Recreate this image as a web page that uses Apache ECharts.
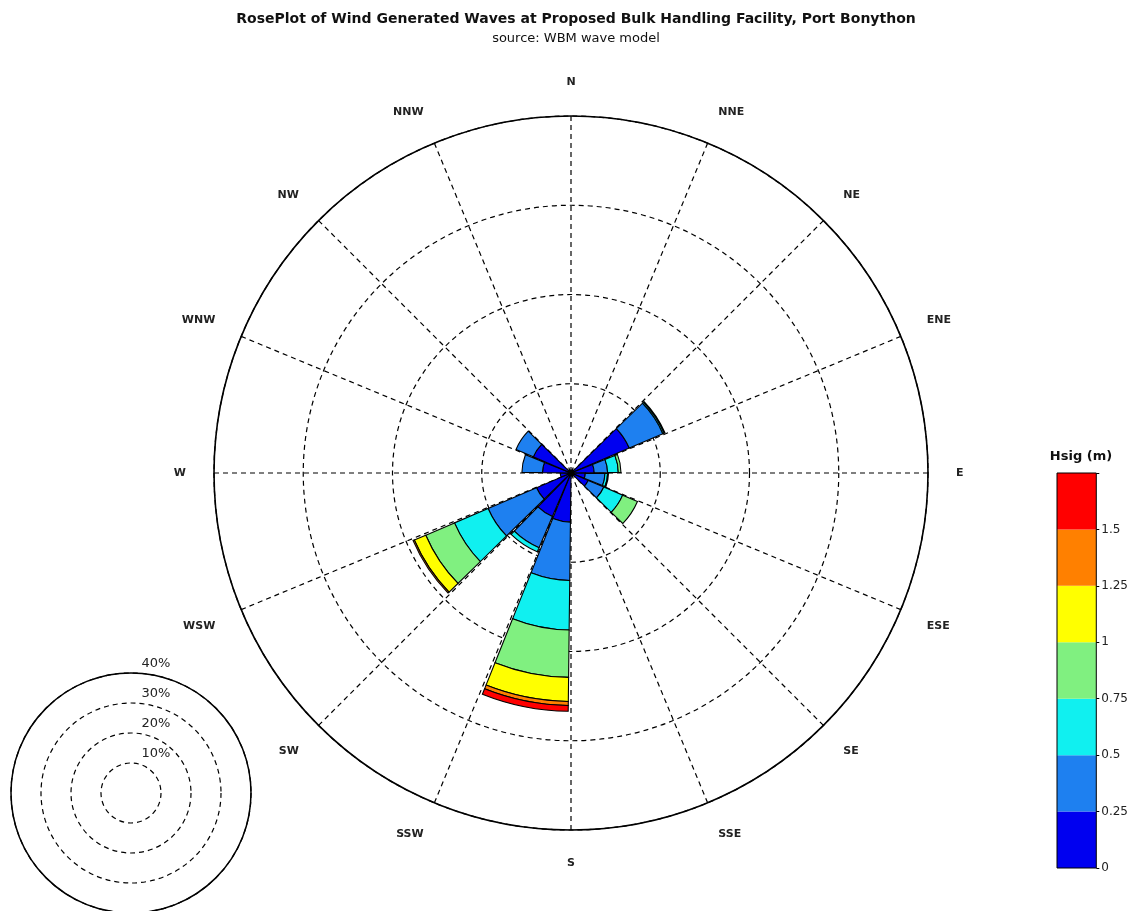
<!DOCTYPE html>
<html>
<head>
<meta charset="utf-8">
<title>RosePlot of Wind Generated Waves</title>
<script src="https://cdn.jsdelivr.net/npm/echarts@6/dist/echarts.min.js"></script>
<style>
  html, body { margin: 0; padding: 0; background: #ffffff; }
  #chart { width: 1131px; height: 911px; }
</style>
</head>
<body>
<div id="chart"></div>
<script>
// Direction sectors, clockwise from north (each sector spans 22.5 degrees from its start bearing)
const directions = ['N', 'NNE', 'NE', 'ENE', 'E', 'ESE', 'SE', 'SSE',
                    'S', 'SSW', 'SW', 'WSW', 'W', 'WNW', 'NW', 'NNW'];

// Hsig classes (m) and their colours
const hsigBins = ['0-0.25', '0.25-0.5', '0.5-0.75', '0.75-1', '1-1.25', '1.25-1.5', '>1.5'];
const binColors = ['#0000f0', '#1e80f0', '#10f0f0', '#80f080', '#ffff00', '#ff8000', '#ff0000'];

// Occurrence (%) per direction sector for each Hsig class
const freqH0 = [0, 0, 7.1, 2.6, 1.6, 2.1, 0, 0, 5.5, 5.3, 4.2, 1.2, 3.2, 4.6, 0, 0];
const freqH1 = [0, 0, 4.1, 1.5, 2.2, 1.9, 0, 0, 6.55, 3.8, 5.9, 0, 2.3, 2.1, 0, 0];
const freqH2 = [0, 0, 0.15, 1.2, 0.3, 2.3, 0, 0, 5.55, 0.5, 4.1, 0, 0, 0, 0, 0];
const freqH3 = [0, 0, 0.1, 0.3, 0.1, 1.8, 0, 0, 5.3, 0, 3.5, 0, 0, 0, 0, 0];
const freqH4 = [0, 0, 0, 0, 0, 0, 0, 0, 2.7, 0, 1.4, 0, 0, 0, 0, 0];
const freqH5 = [0, 0, 0, 0, 0, 0, 0, 0, 0.45, 0, 0.15, 0, 0, 0, 0, 0];
const freqH6 = [0, 0, 0, 0, 0, 0, 0, 0, 0.65, 0, 0, 0, 0, 0, 0, 0];
const freqByBin = [freqH0, freqH1, freqH2, freqH3, freqH4, freqH5, freqH6];

// Rings (%) and colour-bar tick labels
const ringTicks = [10, 20, 30, 40];
const colorbarTicks = ['0', '0.25', '0.5', '0.75', '1', '1.25', '1.5'];
const colorbarStep = 0.25;

const FONT = '"Liberation Sans", Arial, Helvetica, sans-serif';
const WIDE = '"DejaVu Sans", Verdana, sans-serif';
const RING_MAX = ringTicks[ringTicks.length - 1];
const RING_STEP = ringTicks[0];
const SECTOR = 360 / directions.length;

const roseCenter = [571, 473];
const roseRadius = 357;
const keyCenter = [131, 793];
const keyRadius = 120;

const dashed = { color: '#000', width: 1.2, type: [5, 4] };

const series = [];

// Stacked rose sectors
freqByBin.forEach(function (values, k) {
  series.push({
    type: 'bar',
    name: hsigBins[k],
    coordinateSystem: 'polar',
    polarIndex: 0,
    stack: 'rose',
    barCategoryGap: '6%',
    silent: true,
    data: values.map(function (v) { return v > 0 ? v : '-'; }),
    itemStyle: { color: binColors[k], borderColor: '#000', borderWidth: 1.1 }
  });
});

// Colour bar segments
binColors.forEach(function (c, k) {
  series.push({
    type: 'bar',
    name: 'cb-' + hsigBins[k],
    xAxisIndex: 0,
    yAxisIndex: 0,
    stack: 'colorbar',
    barWidth: '100%',
    silent: true,
    data: [colorbarStep],
    itemStyle: { color: c }
  });
});

const option = {
  animation: false,
  backgroundColor: '#ffffff',
  textStyle: { fontFamily: FONT },
  title: [
    {
      text: 'RosePlot of Wind Generated Waves at Proposed Bulk Handling Facility, Port Bonython',
      subtext: 'source: WBM wave model',
      left: 571,
      textAlign: 'center',
      top: 7,
      itemGap: 6,
      textStyle: { fontFamily: WIDE, fontSize: 14, fontWeight: 'bold', color: '#111' },
      subtextStyle: { fontFamily: WIDE, fontSize: 13, color: '#111' }
    },
    {
      text: 'Hsig (m)',
      left: 1076,
      textAlign: 'center',
      top: 445,
      textStyle: { fontFamily: WIDE, fontSize: 13, fontWeight: 'bold', color: '#111' }
    }
  ],
  polar: [
    { center: roseCenter, radius: roseRadius },
    { center: roseCenter, radius: roseRadius },
    { center: keyCenter, radius: keyRadius }
  ],
  angleAxis: [
    {
      // sectors for the stacked bars
      polarIndex: 0,
      type: 'category',
      data: directions,
      boundaryGap: true,
      startAngle: 90,
      clockwise: true,
      show: false
    },
    {
      // compass spokes, outer circle and direction names
      polarIndex: 1,
      type: 'value',
      min: 0,
      max: 360,
      interval: SECTOR,
      startAngle: 90,
      clockwise: true,
      axisLine: { show: true, lineStyle: { color: '#000', width: 1.6 } },
      axisTick: { show: false },
      splitLine: { show: true, lineStyle: dashed },
      axisLabel: {
        show: true,
        margin: 28,
        fontFamily: WIDE,
        fontSize: 11,
        fontWeight: 'bold',
        color: '#222',
        formatter: function (v) {
          const i = Math.round(v / SECTOR);
          return i < directions.length ? directions[i] : '';
        }
      }
    },
    {
      // scale key: outer circle
      polarIndex: 2,
      type: 'value',
      min: 0,
      max: 360,
      startAngle: 90,
      clockwise: true,
      axisLine: { show: true, lineStyle: { color: '#000', width: 1.5 } },
      axisTick: { show: false },
      axisLabel: { show: false },
      splitLine: { show: false }
    }
  ],
  radiusAxis: [
    {
      polarIndex: 0,
      type: 'value',
      min: 0,
      max: RING_MAX,
      show: false
    },
    {
      polarIndex: 1,
      type: 'value',
      min: 0,
      max: RING_MAX,
      interval: RING_STEP,
      axisLine: { show: false },
      axisTick: { show: false },
      axisLabel: { show: false },
      splitLine: { show: true, lineStyle: dashed }
    },
    {
      polarIndex: 2,
      type: 'value',
      min: 0,
      max: RING_MAX,
      interval: RING_STEP,
      axisLine: { show: false },
      axisTick: { show: false },
      splitLine: { show: true, lineStyle: dashed },
      axisLabel: {
        show: true,
        margin: -25,
        align: 'center',
        verticalAlign: 'bottom',
        padding: [0, 0, 3, 0],
        fontFamily: WIDE,
        fontSize: 13,
        color: '#222',
        formatter: function (v) { return ringTicks.indexOf(v) >= 0 ? v + '%' : ''; }
      }
    }
  ],
  grid: {
    show: true,
    z: 10,
    left: 1057,
    top: 473,
    width: 40,
    height: 395,
    backgroundColor: 'transparent',
    borderColor: '#000',
    borderWidth: 1
  },
  xAxis: {
    type: 'category',
    data: [''],
    show: false
  },
  yAxis: {
    type: 'value',
    position: 'right',
    min: 0,
    max: colorbarStep * binColors.length,
    interval: colorbarStep,
    axisLine: { show: false },
    axisTick: { show: true, length: 3, inside: false, lineStyle: { color: '#000' } },
    splitLine: { show: false },
    axisLabel: {
      margin: 5,
      fontFamily: WIDE,
      fontSize: 12,
      color: '#222',
      formatter: function (v) {
        const i = Math.round(v / colorbarStep);
        return i < colorbarTicks.length ? colorbarTicks[i] : '';
      }
    }
  },
  series: series
};

const chart = echarts.init(document.getElementById('chart'), null, { renderer: 'canvas' });
chart.setOption(option);
</script>
</body>
</html>
